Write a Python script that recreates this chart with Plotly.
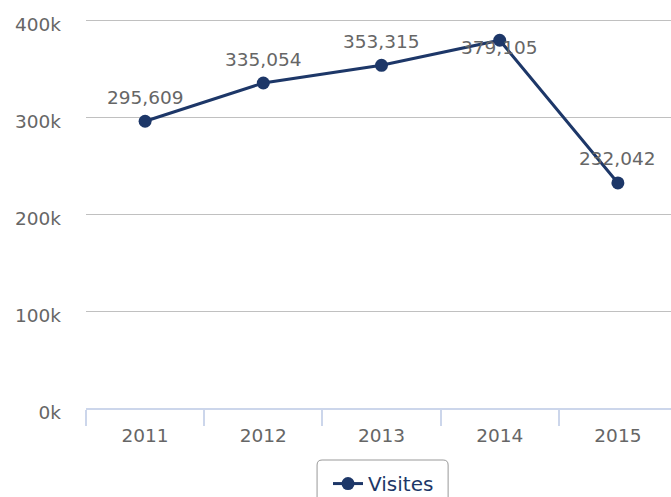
import plotly.graph_objects as go

years = ["2011", "2012", "2013", "2014", "2015"]
visites = [295609, 335054, 353315, 379105, 232042]
labels = ["295,609", "335,054", "353,315", "379,105", "232,042"]
label_shift = [24, 24, 24, -7, 24]
ytick_vals = [0, 100000, 200000, 300000, 400000]
ytick_text = ["0k", "100k", "200k", "300k", "400k"]

navy = "#1d3768"
FONT = "DejaVu Sans"
fig = go.Figure()
fig.add_trace(go.Scatter(
    x=years, y=visites, mode="lines+markers", name="Visites",
    line=dict(color=navy, width=3),
    marker=dict(color=navy, size=13),
    cliponaxis=False,
))

annotations = [
    dict(x=i, y=y, text=t, xref="x", yref="y", showarrow=False,
         yshift=s, xanchor="center", yanchor="middle",
         font=dict(family=FONT, size=18.5, color="#666666"))
    for i, (y, t, s) in enumerate(zip(visites, labels, label_shift))
]

PH = 390.0  # plot height in px
rx, ry = 5 / 585, 5 / PH
L, R, T, B = 0.395, 0.619, -52 / PH, -0.3
box = (f"M {L+rx},{T} L {R-rx},{T} Q {R},{T} {R},{T-ry} L {R},{B} "
       f"L {L},{B} L {L},{T-ry} Q {L},{T} {L+rx},{T} Z")

fig.update_layout(
    width=671, height=497,
    margin=dict(l=86, r=0, t=18, b=89, autoexpand=False),
    paper_bgcolor="white", plot_bgcolor="white",
    font=dict(family=FONT, size=18.5, color="#666666"),
    showlegend=True,
    legend=dict(x=0.4137, xanchor="left", y=-0.1445 * 388 / PH, yanchor="top",
                orientation="h", font=dict(color=navy, size=20),
                bgcolor="rgba(0,0,0,0)"),
    annotations=annotations,
    shapes=[dict(type="path", xref="paper", yref="paper", path=box,
                 line=dict(color="#999999", width=1), fillcolor="rgba(0,0,0,0)")],
)
fig.update_xaxes(
    type="category", range=[-0.5, 4.5 - 6 / 118.2], tickson="boundaries",
    ticks="outside", ticklen=16, tickwidth=2, tickcolor="#ccd6eb",
    showline=True, linecolor="#ccd6eb", linewidth=2,
    showgrid=False, tickfont=dict(family=FONT, size=18.5, color="#666666"),
    ticklabelstandoff=10, automargin=False,
)
fig.update_yaxes(
    range=[0, 400000 * PH / 388], tickvals=ytick_vals, ticktext=ytick_text,
    showgrid=True, gridcolor="#c0c0c0", gridwidth=1, zeroline=False,
    tickfont=dict(family=FONT, size=18.5, color="#666666"),
    ticklabelstandoff=24, ticklabelshift=5, automargin=False,
)
fig.write_html("out.html", config={"displayModeBar": False},
               post_script="document.body.style.margin='0px';")
